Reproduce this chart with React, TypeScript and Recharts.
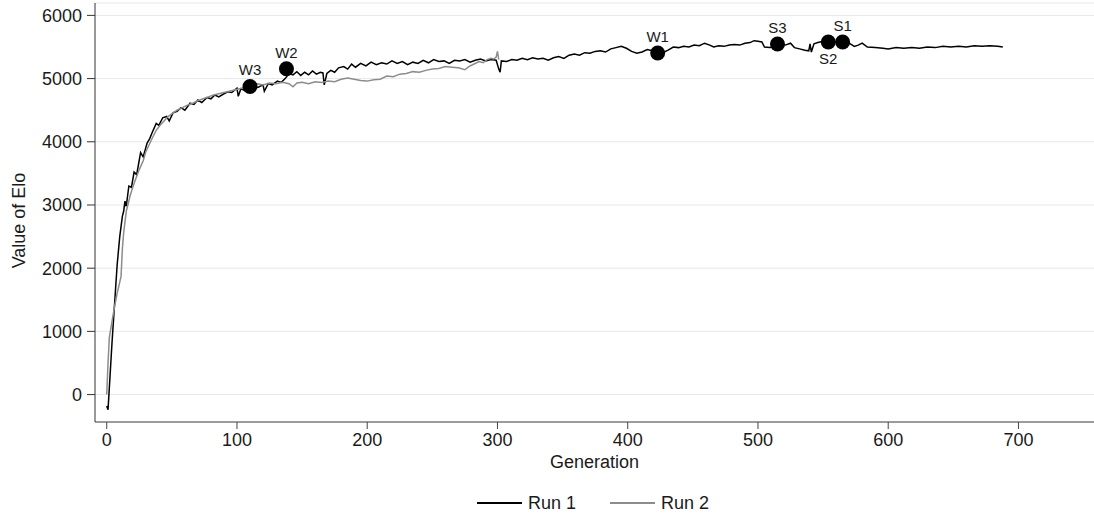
import {
  ComposedChart,
  Line,
  Scatter,
  XAxis,
  YAxis,
  CartesianGrid,
  Legend,
} from "recharts";

// Run 1 (black) – generation / Elo
const run1Gen = [
  0, 1, 4, 8, 10, 12, 13, 14, 15, 17, 19, 21, 23, 26, 28, 31, 33, 35, 38, 40,
  43, 46, 48, 51, 54, 57, 60, 64, 67, 70, 73, 77, 80, 83, 86, 90, 93, 96, 100,
  101, 103, 106, 110, 113, 116, 120, 121, 124, 127, 131, 134, 137, 140, 143,
  146, 149, 152, 155, 158, 161, 164, 166, 167, 169, 172, 175, 178, 182, 185,
  188, 191, 195, 199, 203, 207, 211, 215, 219, 223, 227, 231, 235, 239, 243,
  247, 251, 255, 259, 263, 267, 271, 275, 279, 283, 287, 291, 295, 299, 301,
  302, 303, 307, 311, 315, 319, 323, 327, 331, 335, 339, 343, 347, 351, 355,
  359, 363, 367, 371, 375, 379, 383, 387, 391, 395, 399, 403, 407, 411, 415,
  419, 423, 427, 431, 435, 439, 443, 447, 451, 455, 459, 463, 466, 470, 474,
  478, 482, 486, 490, 494, 497, 500, 503, 505, 509, 513, 517, 521, 525, 528,
  532, 536, 539, 540, 541, 543, 546, 550, 554, 558, 562, 566, 570, 574, 577,
  580, 584, 590, 596, 600, 606, 612, 618, 624, 630, 636, 642, 648, 654, 660,
  666, 672, 678, 684, 688,
];
const run1Elo = [
  -180, -240, 800, 2050, 2500, 2820, 2900, 3060, 2980, 3300, 3280, 3520, 3480,
  3830, 3760, 3980, 4050, 4150, 4290, 4260, 4380, 4400, 4330, 4460, 4480, 4540,
  4500, 4610, 4590, 4660, 4620, 4700, 4680, 4740, 4710, 4760, 4790, 4780, 4850,
  4720, 4840, 4810, 4870, 4880, 4860, 4900, 4800, 4920, 4900, 4960, 4940, 5000,
  5080, 5060, 5110, 5050, 5100, 5060, 5120, 5070, 5100, 5090, 4900, 5080, 5130,
  5100, 5170, 5190, 5150, 5230, 5180, 5240, 5200, 5260, 5220, 5250, 5230, 5280,
  5240, 5270, 5220, 5260, 5240, 5290, 5250, 5300, 5270, 5280, 5240, 5290, 5280,
  5300, 5260, 5290, 5310, 5280, 5300, 5290, 5150, 5100, 5280, 5270, 5300, 5290,
  5320, 5300, 5330, 5310, 5320, 5290, 5330, 5350, 5320, 5370, 5390, 5370, 5410,
  5400, 5430, 5440, 5420, 5470, 5490, 5510, 5480, 5430, 5400, 5420, 5460, 5440,
  5420, 5410, 5450, 5500, 5490, 5510, 5500, 5530, 5520, 5560, 5530, 5500, 5520,
  5510, 5530, 5540, 5530, 5560, 5570, 5600, 5590, 5580, 5500, 5490, 5500, 5540,
  5530, 5560, 5490, 5470, 5450, 5440, 5550, 5420, 5550, 5570, 5590, 5580, 5570,
  5580, 5590, 5560, 5510, 5530, 5560, 5500, 5490, 5480, 5470, 5490, 5480, 5490,
  5480, 5500, 5490, 5510, 5500, 5510, 5500, 5520, 5510, 5520, 5510, 5500,
];

// Run 2 (grey)
const run2Gen = [
  0, 1, 2, 4, 6, 8, 10, 11, 12, 13, 15, 16, 18, 20, 22, 25, 28, 30, 32, 35, 38,
  41, 44, 47, 50, 54, 58, 62, 66, 70, 74, 78, 82, 86, 90, 94, 98, 102, 106, 110,
  115, 120, 125, 130, 135, 140, 143, 146, 150, 155, 160, 165, 170, 175, 180,
  185, 190, 195, 200, 205, 210, 215, 220, 225, 230, 235, 240, 245, 250, 255,
  260, 265, 270, 275, 278, 282, 286, 289, 292, 295, 297, 299, 300, 301,
];
const run2Elo = [
  0, 500, 900, 1150, 1390, 1600, 1780, 1870, 2300, 2560, 2900, 2980, 3150,
  3280, 3400, 3560, 3700, 3840, 3930, 4060, 4180, 4260, 4330, 4400, 4440, 4500,
  4540, 4580, 4610, 4650, 4680, 4710, 4740, 4760, 4780, 4800, 4820, 4840, 4860,
  4880, 4920, 4900, 4930, 4920, 4940, 4920, 4870, 4930, 4940, 4920, 4950, 4940,
  4960, 4950, 4990, 5010, 4990, 4970, 4960, 4980, 4990, 5040, 5030, 5070, 5080,
  5110, 5100, 5130, 5150, 5160, 5190, 5180, 5170, 5140, 5190, 5230, 5270, 5250,
  5300, 5320, 5310, 5340, 5430, 5300,
];

// highlighted individuals
const markerLabels = ["W3", "W2", "W1", "S3", "S2", "S1"];
const markerGen = [110, 138, 423, 515, 554, 565];
const markerElo = [4875, 5155, 5404, 5547, 5578, 5578];
const markerBelow = [false, false, false, false, true, false];

const xTicks = [0, 100, 200, 300, 400, 500, 600, 700];
const yTicks = [0, 1000, 2000, 3000, 4000, 5000, 6000];

const run1 = run1Gen.map((g, i) => ({ gen: g, elo: run1Elo[i] }));
const run2 = run2Gen.map((g, i) => ({ gen: g, elo: run2Elo[i] }));
const markers = markerLabels.map((label, i) => ({
  gen: markerGen[i],
  elo: markerElo[i],
  label,
  below: markerBelow[i],
}));

const FONT = "'Liberation Sans', Arial, sans-serif";
const TEXT = "#1a1a1a";

const MarkerShape = (props: any) => {
  const { cx, cy, payload } = props;
  return (
    <g>
      <circle cx={cx} cy={cy} r={7.5} fill="#000" />
      <text
        x={cx}
        y={payload.below ? cy + 22 : cy - 11}
        textAnchor="middle"
        fontSize={15}
        fontFamily={FONT}
        fill={TEXT}
      >
        {payload.label}
      </text>
    </g>
  );
};

const LegendContent = () => (
  <div
    style={{
      display: "flex",
      alignItems: "center",
      height: 40,
      paddingLeft: 477,
      fontFamily: FONT,
      fontSize: 18,
      color: TEXT,
    }}
  >
    <span style={{ width: 45, height: 1.6, background: "#000" }} />
    <span style={{ marginLeft: 6 }}>Run 1</span>
    <span style={{ width: 45, height: 1.6, background: "#8c8c8c", marginLeft: 34 }} />
    <span style={{ marginLeft: 6 }}>Run 2</span>
  </div>
);

export default function App() {
  return (
    <div style={{ position: "absolute", left: 0, top: 0, background: "#fff" }}>
      <ComposedChart
        width={1094}
        height={519}
        margin={{ top: 3, right: 0, bottom: 7, left: 0 }}
      >
        <CartesianGrid vertical={false} stroke="#e8e8e8" strokeWidth={1} />
        <XAxis
          type="number"
          dataKey="gen"
          domain={[-9, 758]}
          ticks={xTicks}
          allowDataOverflow
          height={50}
          tickSize={7}
          tickMargin={4}
          stroke="#444"
          tick={{ fontSize: 18, fill: TEXT, fontFamily: FONT }}
          label={{
            value: "Generation",
            position: "center",
            dy: 15,
            fontSize: 18,
            fill: TEXT,
            fontFamily: FONT,
          }}
        />
        <YAxis
          type="number"
          dataKey="elo"
          domain={[-434, 6196]}
          ticks={yTicks}
          allowDataOverflow
          width={95}
          tickSize={8}
          tickMargin={5}
          stroke="#333"
          tick={{ fontSize: 18, fill: TEXT, fontFamily: FONT }}
          label={{
            value: "Value of Elo",
            angle: -90,
            position: "center",
            dx: -29,
            dy: 8,
            fontSize: 18,
            fill: TEXT,
            fontFamily: FONT,
          }}
        />
        <Legend
          verticalAlign="bottom"
          height={40}
          wrapperStyle={{ left: 0, top: 483, width: 1094, height: 40 }}
          content={<LegendContent />}
        />
        <Line
          name="Run 1"
          data={run1}
          dataKey="elo"
          stroke="#000"
          strokeWidth={1.5}
          dot={false}
          activeDot={false}
          type="linear"
          isAnimationActive={false}
        />
        <Line
          name="Run 2"
          data={run2}
          dataKey="elo"
          stroke="#8c8c8c"
          strokeWidth={1.5}
          dot={false}
          activeDot={false}
          type="linear"
          isAnimationActive={false}
        />
        <Scatter
          data={markers}
          dataKey="elo"
          shape={<MarkerShape />}
          isAnimationActive={false}
        />
      </ComposedChart>
    </div>
  );
}
